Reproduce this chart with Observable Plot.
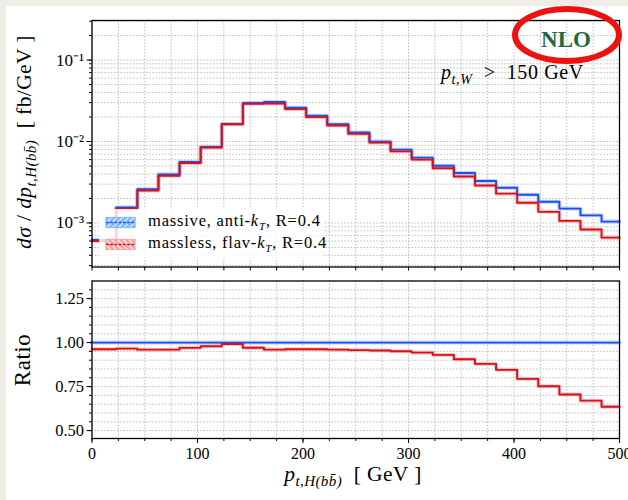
<!DOCTYPE html>
<html>
<head>
<meta charset="utf-8">
<script src="https://cdn.jsdelivr.net/npm/d3@7"></script>
<script src="https://cdn.jsdelivr.net/npm/@observablehq/plot@0.6"></script>
<style>
  html, body { margin: 0; padding: 0; }
  body { width: 628px; height: 500px; overflow: hidden; background: #efece6; font-family: "Liberation Serif", serif; }
  #page { position: relative; width: 628px; height: 500px; }
  #panel { position: absolute; left: 6px; top: 6px; right: 0; bottom: 0; background: #ffffff; }
  .plot { position: absolute; left: 0; }
  #legend { position: absolute; left: 99px; top: 209px; width: 224px; height: 49px;
            background: rgba(255,255,255,0.82); border-radius: 3px; }
  .lrow { position: absolute; left: 6px; height: 14px; display: flex; align-items: center; font-size: 16.5px; letter-spacing: 0.8px; white-space: nowrap; }
  .lrow svg { margin-right: 11px; }
</style>
</head>
<body>
<div id="page">
  <div id="panel"></div>
</div>
<script>
// ---------- data ----------
const binEdges = [0, 23, 43, 63, 83, 103, 123, 143, 163, 183, 203, 223, 243, 263, 283, 303, 323, 343, 363, 383, 403, 423, 443, 463, 483, 500];
const massive = [6.2e-4, 1.55e-3, 2.6e-3, 3.95e-3, 5.6e-3, 8.6e-3, 1.64e-2, 2.98e-2, 3.05e-2, 2.6e-2, 2.07e-2, 1.63e-2, 1.29e-2, 9.97e-3, 7.95e-3, 6.34e-3, 5.05e-3, 4.1e-3, 3.27e-3, 2.71e-3, 2.22e-3, 1.82e-3, 1.50e-3, 1.24e-3, 1.04e-3];
const massless = [6.0e-4, 1.50e-3, 2.5e-3, 3.8e-3, 5.45e-3, 8.45e-3, 1.63e-2, 2.9e-2, 2.93e-2, 2.5e-2, 1.99e-2, 1.57e-2, 1.24e-2, 9.7e-3, 7.57e-3, 6.0e-3, 4.7e-3, 3.72e-3, 2.88e-3, 2.29e-3, 1.77e-3, 1.37e-3, 1.06e-3, 8.3e-4, 6.6e-4];
const ratioMassive = [1, 1, 1, 1, 1, 1, 1, 1, 1, 1, 1, 1, 1, 1, 1, 1, 1, 1, 1, 1, 1, 1, 1, 1, 1];
const ratioMassless = [0.962, 0.966, 0.960, 0.960, 0.970, 0.979, 0.992, 0.971, 0.960, 0.962, 0.962, 0.960, 0.957, 0.955, 0.951, 0.943, 0.930, 0.905, 0.879, 0.845, 0.794, 0.752, 0.705, 0.670, 0.635];

const seriesNames = ["massive, anti-", "massless, flav-"];
const xTicks = [0, 100, 200, 300, 400, 500];
const xTickLabels = ["0", "100", "200", "300", "400", "500"];
const xMinorTicks = [0, 25, 50, 75, 100, 125, 150, 175, 200, 225, 250, 275, 300, 325, 350, 375, 400, 425, 450, 475, 500];
const yTopTicks = [1e-3, 1e-2, 1e-1];
const yTopTickLabels = ["10\u207B\u00B3", "10\u207B\u00B2", "10\u207B\u00B9"];
const yRatioTicks = [0.5, 0.75, 1.0, 1.25];
const yRatioTickLabels = ["0.50", "0.75", "1.00", "1.25"];

// ---------- helpers ----------
const blue = "#1f50ec";
const red = "#d5121b";
const gridStyle = {stroke: "#b8b8b8", strokeOpacity: 1, strokeWidth: 0.9, strokeDasharray: "1.6,1.6"};
const topMinor = [];
[1e-4, 1e-3, 1e-2, 1e-1].forEach(dec => { for (let k = 1; k <= 9; k++) { const v = dec * k; if (v > 2.88e-4 && v < 0.306) topMinor.push(v); } });
const ratioMinor = d3.range(0.5, 1.3001, 0.05);

function steps(vals) {
  return vals.flatMap((v, i) => [{x: binEdges[i], y: v}, {x: binEdges[i + 1], y: v}]);
}

// ---------- top panel ----------
const topPlot = Plot.plot({
  width: 628, height: 270,
  marginLeft: 91.5, marginRight: 9, marginTop: 20, marginBottom: 3.5,
  style: {background: "transparent", fontFamily: "Liberation Serif, serif", fontSize: "15px", color: "black", overflow: "visible"},
  x: {domain: [0, 500]},
  y: {type: "log", domain: [2.88e-4, 0.306]},
  marks: [
    Plot.gridY(topMinor, gridStyle),
    Plot.gridX(xMinorTicks, gridStyle),
    Plot.line(steps(massive), {x: "x", y: "y", stroke: "#9ab8ff", strokeWidth: 4, strokeOpacity: 0.6}),
    Plot.line(steps(massless), {x: "x", y: "y", stroke: "#f4a0a0", strokeWidth: 4, strokeOpacity: 0.6}),
    Plot.line(steps(massive), {x: "x", y: "y", stroke: blue, strokeWidth: 1.9}),
    Plot.line(steps(massless), {x: "x", y: "y", stroke: red, strokeWidth: 1.9}),
    Plot.axisY(topMinor, {tickSize: 2.5, tickFormat: () => "", label: null}),
    Plot.axisY(yTopTicks, {tickSize: 5, tickPadding: 3, fontSize: 17, tickFormat: d => yTopTickLabels[yTopTicks.indexOf(d)], label: null}),
    Plot.axisX(xMinorTicks, {tickSize: 4, tickFormat: () => "", label: null}),
    Plot.frame({stroke: "black", strokeWidth: 1.3})
  ]
});
topPlot.classList.add("plot");
topPlot.style.top = "0px";
document.getElementById("page").appendChild(topPlot);

// ---------- ratio panel ----------
const botPlot = Plot.plot({
  width: 628, height: 230,
  marginLeft: 91.5, marginRight: 9, marginTop: 10.5, marginBottom: 62,
  style: {background: "transparent", fontFamily: "Liberation Serif, serif", fontSize: "15px", color: "black", overflow: "visible"},
  x: {domain: [0, 500]},
  y: {domain: [0.455, 1.35]},
  marks: [
    Plot.gridY(ratioMinor, gridStyle),
    Plot.gridX(xMinorTicks, gridStyle),
    Plot.line(steps(ratioMassive), {x: "x", y: "y", stroke: "#9ab8ff", strokeWidth: 4, strokeOpacity: 0.6}),
    Plot.line(steps(ratioMassless), {x: "x", y: "y", stroke: "#f4a0a0", strokeWidth: 4, strokeOpacity: 0.6}),
    Plot.line(steps(ratioMassive), {x: "x", y: "y", stroke: blue, strokeWidth: 1.9}),
    Plot.line(steps(ratioMassless), {x: "x", y: "y", stroke: red, strokeWidth: 1.9}),
    Plot.axisY(ratioMinor, {tickSize: 2.5, tickFormat: () => "", label: null}),
    Plot.axisY(yRatioTicks, {tickSize: 5, tickPadding: 3, fontSize: 16.5, tickFormat: d => yRatioTickLabels[yRatioTicks.indexOf(d)], label: null}),
    Plot.axisX(xMinorTicks, {tickSize: 3, tickFormat: () => "", label: null}),
    Plot.axisX(xTicks, {tickSize: 5, tickPadding: 4, fontSize: 16, tickFormat: d => xTickLabels[xTicks.indexOf(d)], label: null}),
    Plot.frame({stroke: "black", strokeWidth: 1.3})
  ]
});
botPlot.classList.add("plot");
botPlot.style.top = "270px";
document.getElementById("page").appendChild(botPlot);

// ---------- math-ish text helper ----------
function mathText(svg, x, y, parts, opts = {}) {
  const t = d3.select(svg).append("text")
    .attr("x", x).attr("y", y)
    .attr("text-anchor", opts.anchor || "middle")
    .attr("font-family", "Liberation Serif, serif")
    .attr("font-size", opts.size || 17)
    .attr("letter-spacing", opts.spacing || 0)
    .attr("fill", opts.fill || "black");
  if (opts.rotate) t.attr("transform", `rotate(-90, ${x}, ${y})`);
  let shift = 0;
  parts.forEach(p => {
    const s = t.append("tspan").text(p.t);
    if (p.i) s.attr("font-style", "italic");
    const target = p.sub ? (opts.subShift || 4) : 0;
    if (target !== shift) { s.attr("dy", target - shift); shift = target; }
    if (p.sub) s.attr("font-size", (opts.size || 17) * 0.7);
  });
  return t;
}

// y label (top)
mathText(topPlot, 31, 142, [
  {t: "d\u03C3", i: true}, {t: " / "}, {t: "dp", i: true},
  {t: "t,H(bb\u0304)", i: true, sub: true}, {t: "  [ fb/GeV ]"}
], {rotate: true, size: 21.5, subShift: 5, spacing: 0.4});

// Ratio label
mathText(botPlot, 30, 90, [{t: "Ratio"}], {rotate: true, size: 23, spacing: 0.5});

// x label
mathText(botPlot, 353, 211, [
  {t: "p", i: true}, {t: "t,H(bb\u0304)", i: true, sub: true}, {t: "  [ GeV ]"}
], {size: 21.5, subShift: 5, spacing: 0.4});

// annotations
d3.select(topPlot).append("text")
  .attr("x", 566).attr("y", 47).attr("text-anchor", "middle")
  .attr("font-family", "Liberation Serif, serif").attr("font-weight", "bold")
  .attr("font-size", 23).attr("fill", "#1f6a3a").text("NLO");
d3.select(topPlot).append("ellipse")
  .attr("cx", 567).attr("cy", 35).attr("rx", 52).attr("ry", 26)
  .attr("fill", "none").attr("stroke", "#ee1111").attr("stroke-width", 6);
mathText(topPlot, 441, 79, [
  {t: "p", i: true}, {t: "t,W", i: true, sub: true}, {t: "  >  150 GeV"}
], {anchor: "start", size: 20, subShift: 5, spacing: 0.6});

// ---------- legend ----------
function patch(color, fill, dir, id) {
  const w = 32, h = 11;
  const pat = dir > 0
    ? `<path d="M-2,2 l4,-4 M0,6 l6,-6 M4,8 l4,-4" stroke="white" stroke-width="1.1"/>`
    : `<path d="M-2,4 l4,4 M0,0 l6,6 M4,-2 l4,4" stroke="white" stroke-width="1.1"/>`;
  return `<svg width="${w}" height="${h + 2}" viewBox="-1 -1 ${w + 2} ${h + 2}" style="letter-spacing:0">
    <defs><pattern id="${id}" width="6" height="6" patternUnits="userSpaceOnUse">
      <rect width="6" height="6" fill="${fill}"/>${pat}</pattern></defs>
    <rect x="0" y="0" width="${w - 1}" height="${h}" fill="url(#${id})" stroke="${fill}" stroke-width="1"/>
    <line x1="0" y1="${h / 2}" x2="${w - 1}" y2="${h / 2}" stroke="${color}" stroke-width="1.6" stroke-dasharray="3,1.5"/>
  </svg>`;
}
const legend = document.createElement("div");
legend.id = "legend";
legend.innerHTML = `
  <div class="lrow" style="top:6px">${patch(blue, "#7fb6f7", 1, "hb")}<span>${seriesNames[0]}<i>k</i><sub style="font-size:11px;font-style:italic">T</sub>, R=0.4</span></div>
  <div class="lrow" style="top:28px">${patch(red, "#f4a3a3", -1, "hr")}<span>${seriesNames[1]}<i>k</i><sub style="font-size:11px;font-style:italic">T</sub>, R=0.4</span></div>`;
document.getElementById("page").appendChild(legend);
</script>
</body>
</html>
